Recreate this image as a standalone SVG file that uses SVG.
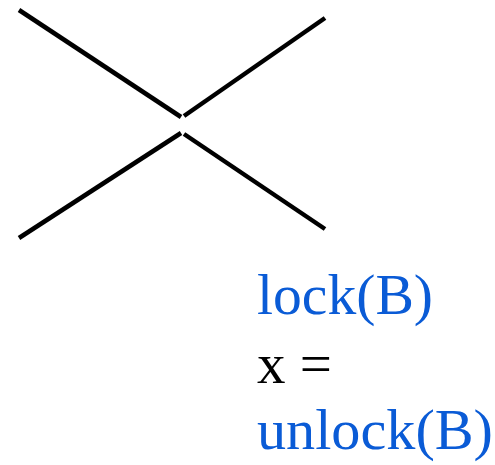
<svg xmlns="http://www.w3.org/2000/svg" width="495" height="465" viewBox="0 0 495 465">
<style>
.ln{stroke:#000;stroke-width:4.5;fill:none}
.t{font-family:"Liberation Serif","Times New Roman",serif;font-size:57px}
.b{fill:#0a5bd6}
.k{fill:#000}
</style>
<rect width="495" height="465" fill="#fff"/>
<g id="connectors">
<line class="ln" x1="19" y1="10" x2="181" y2="117"/>
<line class="ln" x1="184" y1="116" x2="325" y2="18"/>
<line class="ln" x1="19" y1="238" x2="181" y2="133"/>
<line class="ln" x1="184" y1="134" x2="325" y2="229"/>
</g>
<g id="lock">
<text class="t b" x="257" y="314" textLength="176" lengthAdjust="spacingAndGlyphs">lock(B)</text>
</g>
<g id="assign">
<text class="t k" x="257" y="383">x =</text>
</g>
<g id="unlock">
<text class="t b" x="257" y="449" textLength="236" lengthAdjust="spacingAndGlyphs">unlock(B)</text>
</g>
</svg>
